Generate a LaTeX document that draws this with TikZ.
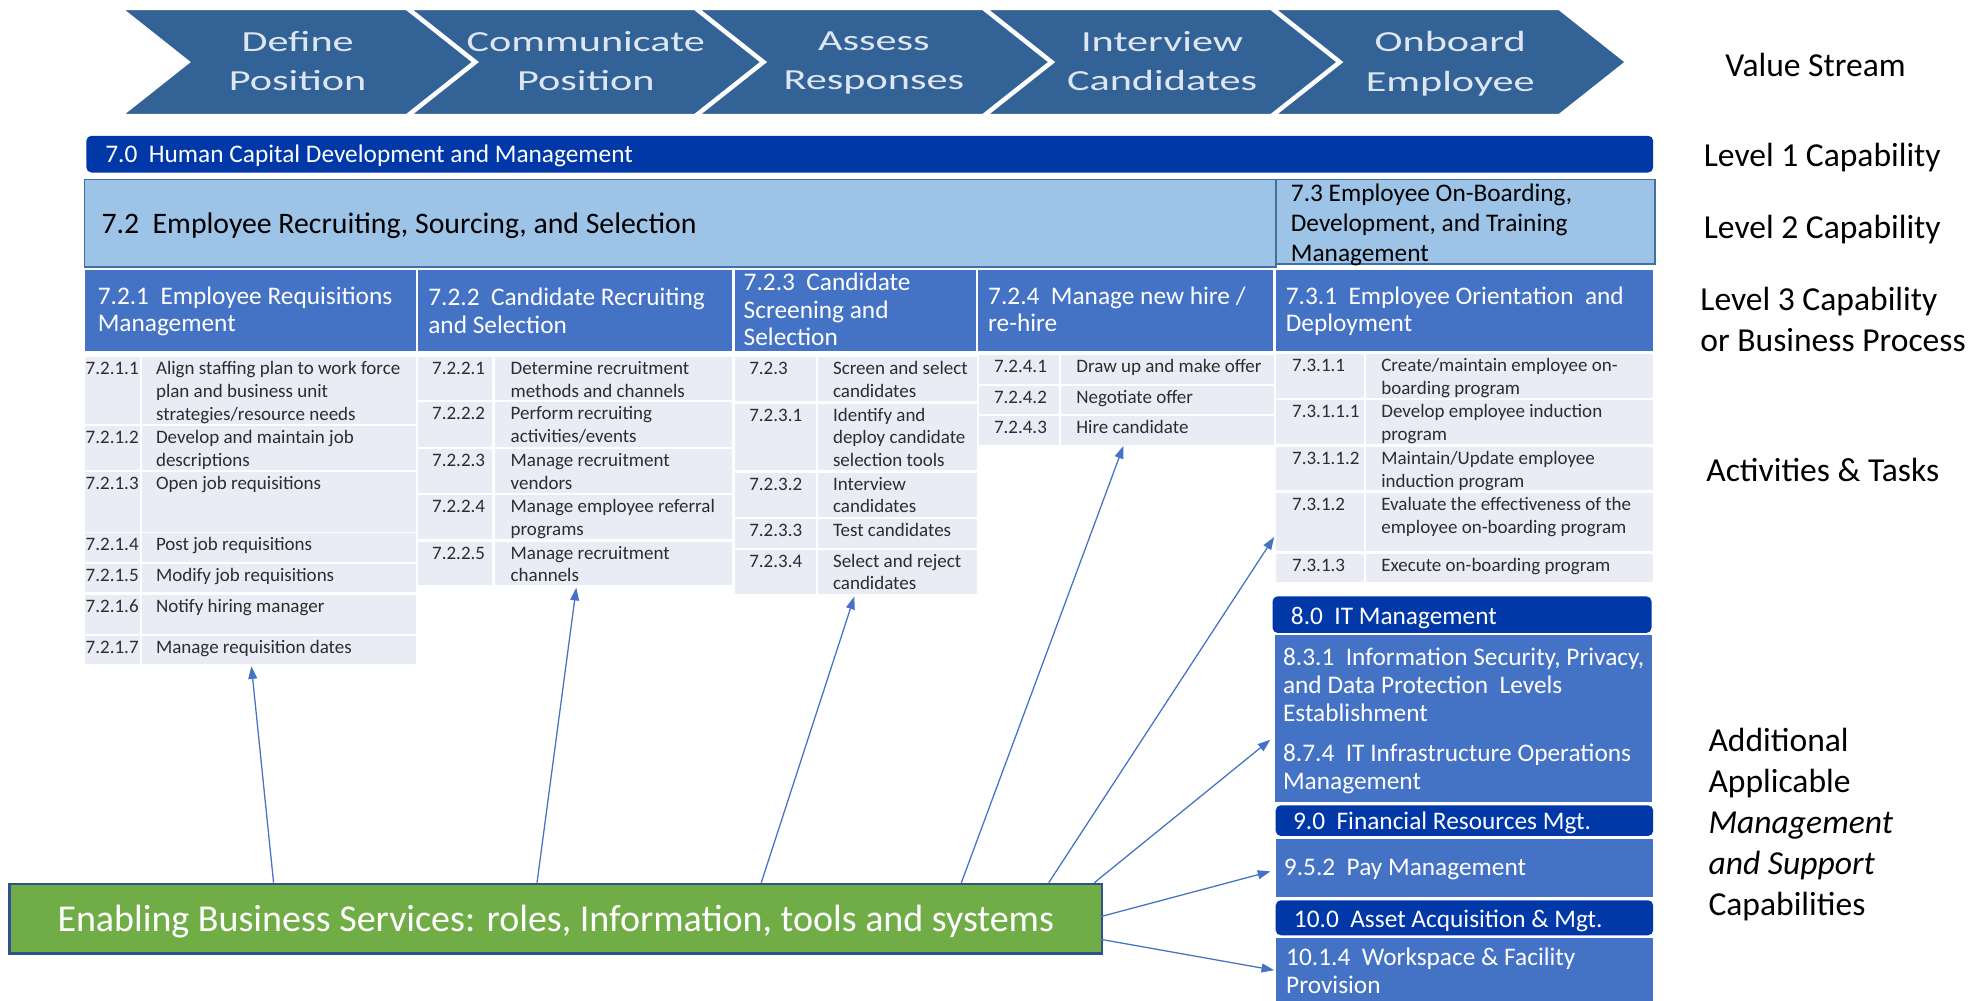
\documentclass[tikz,border=0pt]{standalone}
\usepackage{fontspec}
\setmainfont{Carlito}
\newfontfamily\chevfont[FakeStretch=1.45]{Carlito}
\usetikzlibrary{arrows.meta}
\definecolor{chevc}{RGB}{50,98,150}
\definecolor{chevtxtc}{RGB}{222,230,240}
\definecolor{dkc}{RGB}{0,56,168}
\definecolor{l2c}{RGB}{157,195,230}
\definecolor{l2bc}{RGB}{65,113,156}
\definecolor{l3c}{RGB}{68,114,196}
\definecolor{cellc}{RGB}{233,235,245}
\definecolor{celltc}{RGB}{45,45,45}
\definecolor{greenc}{RGB}{112,173,71}
\definecolor{greenbc}{RGB}{47,82,143}
\definecolor{arrc}{RGB}{68,114,196}
\newcommand\taskrow[9]{%
 \node[cellbox, minimum width={(#3-(#2))*1pt}, minimum height={(#7-(#6))*1pt}] (#1a) at (#2,#6) {};
 \node[cellbox, minimum width={(#5-(#4))*1pt}, minimum height={(#7-(#6))*1pt}] (#1b) at (#4,#6) {};
 \node[tasktxt] (#1n) at ({#2+\np},{#6+1.2}) {\strut #8};
 \node[tasktxt] (#1t) at ({#4+\tp},{#6+1.2}) {\strut #9};
}
\begin{document}
\begin{tikzpicture}[x=1pt,y=-1pt,
 chevtxt/.style={font=\chevfont\fontsize{23}{31}\selectfont, text=chevtxtc, align=center, inner sep=0, anchor=north},
 dkbar/.style={fill=dkc, rounded corners=4pt, inner sep=0, anchor=north west},
 l2box/.style={fill=l2c, draw=l2bc, line width=1.2pt, inner sep=0, anchor=north west},
 l3box/.style={fill=l3c, inner sep=0, anchor=north west},
 cellbox/.style={fill=cellc, inner sep=0, anchor=north west},
 wtxt/.style={text=white, inner sep=0, font=\fontsize{20}{22}\selectfont, anchor=west, yshift=-2pt},
 tasktxt/.style={font=\fontsize{15}{18}\selectfont, text=celltc, align=left, inner sep=0, anchor=north west},
 hdrtxt/.style={font=\fontsize{20}{22}\selectfont, text=white, align=left, inner sep=0, anchor=north west, yshift=-2pt},
 lbl/.style={font=\fontsize{26.5}{32.4}\selectfont, text=black, inner sep=0, anchor=west, align=left},
 arr/.style={draw=arrc, line width=1pt, -{Triangle[length=10pt,width=7pt]}}]
\useasboundingbox (0,0) rectangle (1568,790);

% value stream chevrons
\foreach \i/\a/\b in {0/Define/Position,1/Communicate/Position,2/Assess/Responses,3/Interview/Candidates,4/Onboard/Employee}{
  \pgfmathsetmacro\L{96+227.5*\i}
  \pgfmathsetmacro\R{321+227.5*\i}
  \draw[white, line width=2pt, fill=chevc, line join=miter] (\L,7) -- (\R,7) -- (\R+53,49) -- (\R,91) -- (\L,91) -- (\L+53,49) -- cycle;
  \node[chevtxt] (vs\i) at ({(\L+53+\R)/2},24.7) {\a\\\b};
}

% level 1
\node[dkbar, minimum width=1237pt, minimum height=29pt] (l1) at (68,107) {};
\node[wtxt, yshift=0.5pt] (l1t) at (83,121.5) {7.0~~Human Capital Development and Management};

% level 2
\node[l2box, minimum width=941pt, minimum height=69pt] (l2a) at (66,141) {};
\node[inner sep=0, anchor=west, font=\fontsize{23.5}{26}\selectfont, text=black] (l2at) at (80,178) {7.2~~Employee Recruiting, Sourcing, and Selection};
\node[l2box, minimum width=299pt, minimum height=67pt] (l2b) at (1007,141) {};
\node[inner sep=0, anchor=north west, align=left, font=\fontsize{20}{23.5}\selectfont, text=black] (l2bt) at (1019,145) {7.3 Employee On-Boarding,\\Development, and Training\\Management};

% level 3 headers
\node[l3box, minimum width=261pt, minimum height=64pt] (h1) at (67,213) {};
\node[l3box, minimum width=248pt, minimum height=64pt] (h2) at (330,213) {};
\node[l3box, minimum width=190pt, minimum height=64pt] (h3) at (580,213) {};
\node[l3box, minimum width=233pt, minimum height=64pt] (h4) at (772,213) {};
\node[l3box, minimum width=298pt, minimum height=64pt] (h5) at (1007,213) {};
\node[hdrtxt] (h1t) at (77,224) {7.2.1~~Employee Requisitions\\Management};
\node[hdrtxt] (h2t) at (338,225) {7.2.2~~Candidate Recruiting\\and Selection};
\node[hdrtxt] (h3t) at (587,213) {7.2.3~~Candidate\\Screening and\\Selection};
\node[hdrtxt] (h4t) at (780,224) {7.2.4~~Manage new hire /\\re-hire};
\node[hdrtxt] (h5t) at (1015,224) {7.3.1~~Employee Orientation~~and\\Deployment};

% column 1 tasks
\def\np{0.5}\def\tp{11}
\taskrow{ca}{67}{110.3}{112}{328.5}{281.6}{334.5}{7.2.1.1}{Align staffing plan to work force\\plan and business unit\\strategies/resource needs}
\taskrow{cb}{67}{110.3}{112}{328.5}{336.3}{371}{7.2.1.2}{Develop and maintain job\\descriptions}
\taskrow{cc}{67}{110.3}{112}{328.5}{372.7}{419.8}{7.2.1.3}{Open job requisitions}
\taskrow{cd}{67}{110.3}{112}{328.5}{421}{443.5}{7.2.1.4}{Post job requisitions}
\taskrow{ce}{67}{110.3}{112}{328.5}{445.3}{467.2}{7.2.1.5}{Modify job requisitions}
\taskrow{cf}{67}{110.3}{112}{328.5}{469.2}{500}{7.2.1.6}{Notify hiring manager}
\taskrow{cg}{67}{110.3}{112}{328.5}{501.9}{523.7}{7.2.1.7}{Manage requisition dates}

% column 2 tasks
\def\np{11}\def\tp{12.5}
\taskrow{da}{330}{388.6}{390.5}{578}{281.6}{315.8}{7.2.2.1}{Determine recruitment\\methods and channels}
\taskrow{db}{330}{388.6}{390.5}{578}{317.1}{352.7}{7.2.2.2}{Perform recruiting\\activities/events}
\taskrow{dc}{330}{388.6}{390.5}{578}{354.5}{389}{7.2.2.3}{Manage recruitment\\vendors}
\taskrow{dd}{330}{388.6}{390.5}{578}{390.8}{425.5}{7.2.2.4}{Manage employee referral\\programs}
\taskrow{de}{330}{388.6}{390.5}{578}{427.4}{461.9}{7.2.2.5}{Manage recruitment\\channels}

% column 3 tasks
\def\np{11.4}\def\tp{11.5}
\taskrow{ea}{580}{644.2}{646}{771}{281.6}{316.6}{7.2.3}{Screen and select\\candidates}
\taskrow{eb}{580}{644.2}{646}{771}{318.4}{371}{7.2.3.1}{Identify and\\deploy candidate\\selection tools}
\taskrow{ec}{580}{644.2}{646}{771}{372.9}{407.9}{7.2.3.2}{Interview\\candidates}
\taskrow{ed}{580}{644.2}{646}{771}{409.8}{432.1}{7.2.3.3}{Test candidates}
\taskrow{ee}{580}{644.2}{646}{771}{433.7}{469}{7.2.3.4}{Select and reject\\candidates}

% column 4 tasks
\def\np{12}\def\tp{12}
\taskrow{fa}{772.6}{836}{837.6}{1006}{280.3}{302.6}{7.2.4.1}{Draw up and make offer}
\taskrow{fb}{772.6}{836}{837.6}{1006}{304.5}{326.3}{7.2.4.2}{Negotiate offer}
\taskrow{fc}{772.6}{836}{837.6}{1006}{328.4}{350.8}{7.2.4.3}{Hire candidate}

% column 5 tasks
\def\np{13}\def\tp{12}
\taskrow{ga}{1007}{1076.6}{1078.4}{1304.7}{279.5}{314}{7.3.1.1}{Create/maintain employee on-\\boarding program}
\taskrow{gb}{1007}{1076.6}{1078.4}{1304.7}{315.8}{350.5}{7.3.1.1.1}{Develop employee induction\\program}
\taskrow{gc}{1007}{1076.6}{1078.4}{1304.7}{352.7}{386.9}{7.3.1.1.2}{Maintain/Update employee\\induction program}
\taskrow{gd}{1007}{1076.6}{1078.4}{1304.7}{389}{435}{7.3.1.2}{Evaluate the effectiveness of the\\employee on-boarding program}
\taskrow{ge}{1007}{1076.6}{1078.4}{1304.7}{437.1}{459.3}{7.3.1.3}{Execute on-boarding program}

% additional capabilities
\node[dkbar, minimum width=299.2pt, minimum height=28.9pt] (it0) at (1004.5,470.6) {};
\node[wtxt] (it0t) at (1019,486) {8.0~~IT Management};
\node[l3box, minimum width=297.4pt, minimum height=132pt] (itb) at (1006.3,501.3) {};
\node[hdrtxt] (itb1) at (1012.8,509.5) {8.3.1~~Information Security, Privacy,\\and Data Protection~~Levels\\Establishment};
\node[hdrtxt] (itb2) at (1012.8,585) {8.7.4~~IT Infrastructure Operations\\Management};
\node[dkbar, minimum width=298pt, minimum height=24.2pt] (fin0) at (1007,635.6) {};
\node[wtxt] (fin0t) at (1020.7,647.5) {9.0~~Financial Resources Mgt.};
\node[l3box, minimum width=298pt, minimum height=46pt] (pay) at (1007,661.9) {};
\node[wtxt] (payt) at (1013.5,684.3) {9.5.2~~Pay Management};
\node[dkbar, minimum width=298pt, minimum height=27.6pt] (ast0) at (1007,710.6) {};
\node[wtxt] (ast0t) at (1021.4,725) {10.0~~Asset Acquisition \& Mgt.};
\node[l3box, minimum width=298pt, minimum height=49.7pt] (ws) at (1007,740.3) {};
\node[hdrtxt] (wst) at (1015.3,746.3) {10.1.4~~Workspace \& Facility\\Provision};

% enabling services
\node[fill=greenc, draw=greenbc, line width=2pt, inner sep=0, anchor=north west,
      minimum width=862.4pt, minimum height=54.9pt] (ebs) at (6.6,696.9) {};
\node[text=white, inner sep=0, font=\fontsize{30}{34}\selectfont, yshift=-2pt] (ebst) at (ebs.center) {Enabling Business Services: roles, Information, tools and systems};

% arrows
\coordinate (s1) at (216,696.9);   \coordinate (t1) at (198.5,526);
\coordinate (s2) at (424,696.9);   \coordinate (t2) at (455,464);
\coordinate (s3) at (601,696.9);   \coordinate (t3) at (674.5,471);
\coordinate (s4) at (759,696.9);   \coordinate (t4) at (887,352);
\coordinate (s5) at (828,696.9);   \coordinate (t5) at (1006,424);
\coordinate (s6) at (864,696.9);   \coordinate (t6) at (1003,584);
\coordinate (s7) at (869,723.7);   \coordinate (t7) at (1003,688);
\coordinate (s8) at (869,741.6);   \coordinate (t8) at (1006,766);
\foreach \k in {1,...,8}{\draw[arr] (s\k) -- (t\k);}

% right-hand labels
\node[lbl] (lvs) at (1362,51.3) {Value Stream};
\node[lbl] (lv1) at (1345,124) {Level 1 Capability};
\node[lbl] (lv2) at (1345,181) {Level 2 Capability};
\node[lbl, anchor=north west] (lv3) at (1342.3,226.5) {Level 3 Capability\\or Business Process};
\node[lbl] (lact) at (1347,371) {Activities \& Tasks};
\node[lbl, anchor=north west] (ladd) at (1348.7,574.4) {Additional\\Applicable\\\textit{Management}\\\textit{and Support}\\Capabilities};
\end{tikzpicture}
\end{document}
